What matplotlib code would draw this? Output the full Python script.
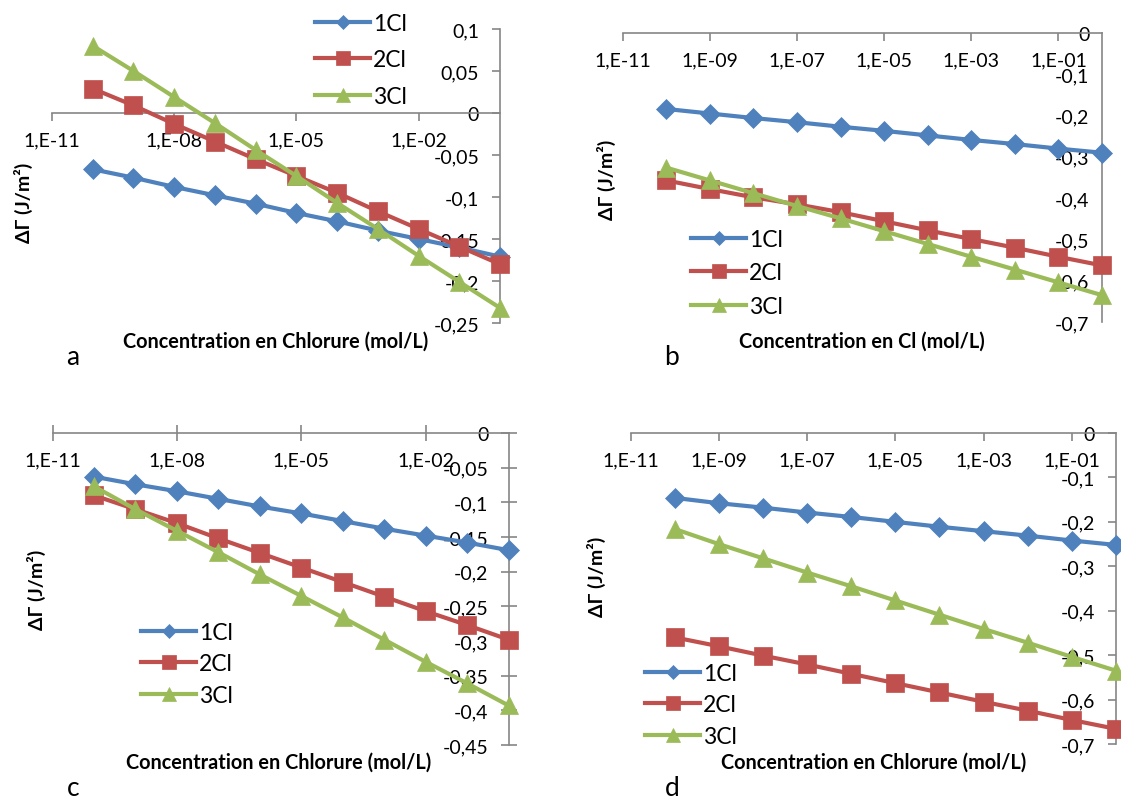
import matplotlib
matplotlib.use("Agg")
import matplotlib.pyplot as plt
from matplotlib.ticker import FixedLocator, FixedFormatter, FuncFormatter, NullLocator

plt.rcParams['font.family'] = ['Lato', 'DejaVu Sans']

W, H = 1121, 803

# concentrations (mol/L)
conc = [1e-10, 1e-9, 1e-8, 1e-7, 1e-6, 1e-5, 1e-4, 1e-3, 1e-2, 1e-1, 1e0]
names = ["1Cl", "2Cl", "3Cl"]

# panel a
a_1cl = [-0.067, -0.077, -0.088, -0.098, -0.108, -0.119, -0.129, -0.140, -0.150, -0.160, -0.171]
a_2cl = [0.029, 0.009, -0.013, -0.034, -0.055, -0.075, -0.095, -0.117, -0.138, -0.159, -0.180]
a_3cl = [0.080, 0.050, 0.019, -0.012, -0.044, -0.075, -0.107, -0.138, -0.170, -0.201, -0.232]
# panel b
b_1cl = [-0.184, -0.195, -0.206, -0.216, -0.227, -0.237, -0.248, -0.259, -0.269, -0.280, -0.290]
b_2cl = [-0.357, -0.378, -0.398, -0.415, -0.434, -0.456, -0.478, -0.499, -0.520, -0.542, -0.563]
b_3cl = [-0.326, -0.357, -0.388, -0.419, -0.449, -0.480, -0.511, -0.542, -0.573, -0.604, -0.635]
# panel c
c_1cl = [-0.063, -0.074, -0.084, -0.095, -0.106, -0.116, -0.127, -0.138, -0.148, -0.158, -0.169]
c_2cl = [-0.090, -0.110, -0.130, -0.152, -0.173, -0.194, -0.215, -0.236, -0.257, -0.277, -0.298]
c_3cl = [-0.077, -0.110, -0.141, -0.172, -0.204, -0.235, -0.266, -0.298, -0.330, -0.361, -0.393]
# panel d
d_1cl = [-0.146, -0.158, -0.168, -0.179, -0.189, -0.200, -0.211, -0.221, -0.231, -0.242, -0.252]
d_2cl = [-0.460, -0.480, -0.501, -0.521, -0.542, -0.563, -0.584, -0.605, -0.625, -0.646, -0.666]
d_3cl = [-0.216, -0.250, -0.282, -0.314, -0.345, -0.377, -0.409, -0.441, -0.472, -0.504, -0.535]

ticks_3 = [1e-11, 1e-8, 1e-5, 1e-2]
labels_3 = ["1,E-11", "1,E-08", "1,E-05", "1,E-02"]
ticks_2 = [1e-11, 1e-9, 1e-7, 1e-5, 1e-3, 1e-1]
labels_2 = ["1,E-11", "1,E-09", "1,E-07", "1,E-05", "1,E-03", "1,E-01"]

colors = ["#4F81BD", "#C0504D", "#9BBB59"]
markers = [("D", 10), ("s", 13.5), ("^", 13.5)]
grey = "#868686"


def fx(px):
    return px / W


def fy(py):
    return 1 - py / H


def ylab(v, pos):
    s = f"{round(v, 3):g}".replace(".", ",")
    return "0" if s in ("-0", "0") else s


def panel(box, data, ylim, ystep, xticks, xlabels, xlabel, leg, spacing,
          ylab_xy, xlab_xy, letter, letter_xy, tdir="out", ytick_len=6):
    l, t, r, b = box
    ax = fig.add_axes([fx(l), fy(b), fx(r - l), (b - t) / H])
    for ys, name, c, (m, ms) in zip(data, names, colors, markers):
        ax.plot(conc, ys, color=c, lw=3.0, marker=m, ms=ms, mec=c, mew=0.5,
                label=name, clip_on=False, zorder=3)
    ax.set_xscale("log")
    ax.set_xlim(1e-11, 1e0)
    ax.set_ylim(*ylim)
    ax.patch.set_visible(False)
    ax.spines["top"].set_visible(False)
    ax.spines["right"].set_visible(False)
    ax.spines["left"].set_position(("axes", 1.0))
    ax.spines["bottom"].set_position(("data", 0))
    for s in ("left", "bottom"):
        ax.spines[s].set_color(grey)
        ax.spines[s].set_linewidth(1.2)
    ax.xaxis.set_major_locator(FixedLocator(xticks))
    ax.xaxis.set_major_formatter(FixedFormatter(xlabels))
    ax.xaxis.set_minor_locator(NullLocator())
    n = int(round((ylim[1] - ylim[0]) / ystep))
    ax.yaxis.set_major_locator(FixedLocator([ylim[0] + i * ystep for i in range(n + 1)]))
    ax.yaxis.set_major_formatter(FuncFormatter(ylab))
    ax.tick_params(axis="both", colors=grey, labelcolor="black", labelsize=14,
                   width=1.2, direction=tdir)
    ax.tick_params(axis="x", length=6 if tdir == "out" else 11, pad=7.5)
    ax.tick_params(axis="y", length=ytick_len if tdir == "out" else 11, pad=9)
    ax.legend(loc="center left", bbox_to_anchor=(fx(leg[0]), fy(leg[1])),
              bbox_transform=fig.transFigure, frameon=False, fontsize=16.5,
              handlelength=2.4, handletextpad=0.12, borderpad=0,
              borderaxespad=0, labelspacing=spacing, markerscale=0.75)
    fig.text(fx(ylab_xy[0]), fy(ylab_xy[1]), "ΔΓ (J/m²)", rotation=90,
             ha="center", va="center", fontsize=14, fontweight="bold")
    fig.text(fx(xlab_xy[0]), fy(xlab_xy[1]), xlabel, ha="center", va="center",
             fontsize=14.3, fontweight="bold")
    fig.text(fx(letter_xy[0]), fy(letter_xy[1]), letter, ha="center", va="center",
             fontsize=19)
    return ax


fig = plt.figure(figsize=(W / 100, H / 100), dpi=100)

panel((52, 30, 500, 324), [a_1cl, a_2cl, a_3cl], (-0.25, 0.1), 0.05,
      ticks_3, labels_3, "Concentration en Chlorure (mol/L)",
      (315, 61), 0.67, (23, 203), (276, 342), "a", (73, 358))
panel((622.6, 34, 1102, 323), [b_1cl, b_2cl, b_3cl], (-0.7, 0.0), 0.1,
      ticks_2, labels_2, "Concentration en Cl (mol/L)",
      (691, 274), 0.53, (606, 180), (862, 342), "b", (672, 358), ytick_len=0)
panel((52.5, 434, 508.5, 746), [c_1cl, c_2cl, c_3cl], (-0.45, 0.0), 0.05,
      ticks_3, labels_3, "Concentration en Chlorure (mol/L)",
      (141, 665), 0.47, (36, 590), (279, 763), "c", (73, 789), tdir="inout")
panel((630.5, 434, 1116, 745), [d_1cl, d_2cl, d_3cl], (-0.7, 0.0), 0.1,
      ticks_2, labels_2, "Concentration en Chlorure (mol/L)",
      (645, 706), 0.47, (596, 577), (874, 763), "d", (672, 789))

fig.savefig("out.png", dpi=100)
